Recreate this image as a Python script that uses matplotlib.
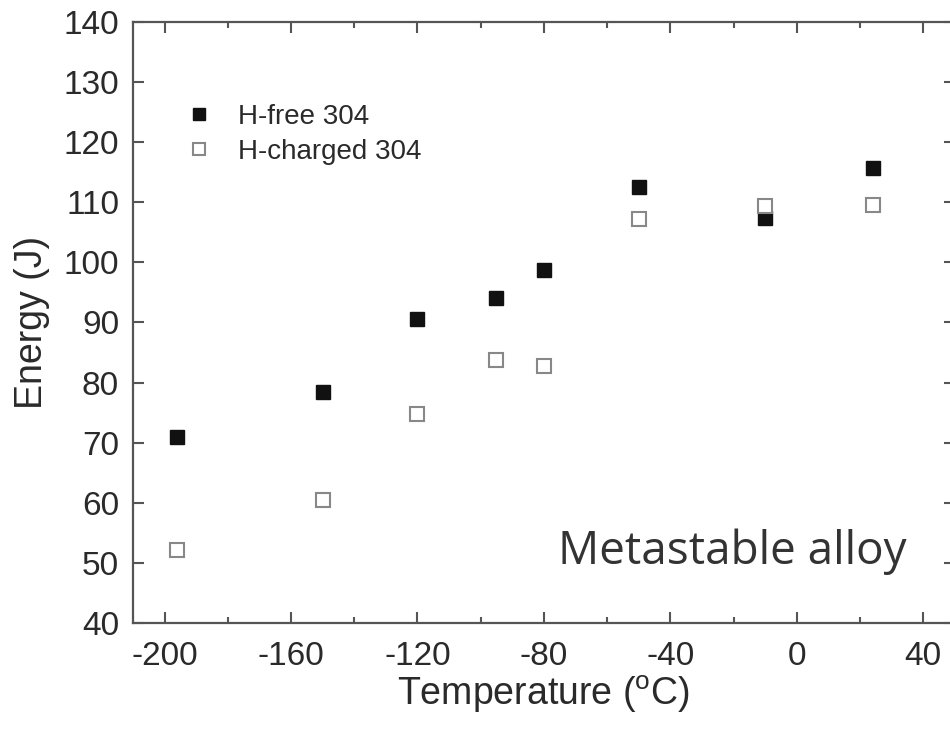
import numpy as np
import matplotlib
matplotlib.use("Agg")
import matplotlib.pyplot as plt
from matplotlib.ticker import MultipleLocator

# data
temp_free = [-196, -150, -120, -95, -80, -50, -10, 24]
energy_free = [71.0, 78.4, 90.6, 94.1, 98.7, 112.5, 107.3, 115.7]
temp_charged = [-196, -150, -120, -95, -80, -50, -10, 24]
energy_charged = [52.1, 60.4, 74.8, 83.8, 82.8, 107.2, 109.3, 109.5]

plt.rcParams['font.family'] = ['Liberation Sans', 'DejaVu Sans']
plt.rcParams['mathtext.fontset'] = 'custom'
plt.rcParams['mathtext.rm'] = 'Liberation Sans'
plt.rcParams['axes.unicode_minus'] = False

fig = plt.figure(figsize=(9.5, 7.42), dpi=100)
ax = fig.add_axes([0.14, 0.1604, 0.865, 0.81])

ax.plot(temp_free, energy_free, 's', ms=10, mfc='#111111', mec='#111111',
        mew=1, label='H-free 304')
ax.plot(temp_charged, energy_charged, 's', ms=10, mfc='white', mec='#888888',
        mew=1.5, label='H-charged 304')

ax.set_xlim(-210, 50)
ax.set_ylim(40, 140)
ax.xaxis.set_major_locator(MultipleLocator(40))
ax.xaxis.set_minor_locator(MultipleLocator(20))
ax.yaxis.set_major_locator(MultipleLocator(10))

for s in ax.spines.values():
    s.set_color('#555555')
    s.set_linewidth(1.6)
ax.tick_params(which='both', direction='in', top=True, right=True,
               color='#555555', width=1.5, labelsize=24, labelcolor='#2a2a2a')
ax.tick_params(axis='x', which='major', pad=13)
ax.tick_params(axis='y', which='major', pad=10)
ax.tick_params(which='major', length=8)
ax.tick_params(which='minor', length=4)

ax.set_xlabel(r'Temperature ($^{\rm o}$C)', fontsize=27, color='#2a2a2a', labelpad=1)
ax.set_ylabel('Energy (J)', fontsize=27, color='#2a2a2a', labelpad=10)

leg = ax.legend(loc='upper left', bbox_to_anchor=(0.033, 0.905), frameon=False,
                fontsize=20, markerscale=0.8, handletextpad=0.9,
                labelspacing=0.32, handlelength=1.0)
for t in leg.get_texts():
    t.set_color('#2a2a2a')

fig.text(558 / 950, 1 - 564 / 742, 'Metastable alloy', fontsize=33,
         family='Open Sans', color='#333333', va='baseline', ha='left')

fig.savefig('out.png', dpi=100)
